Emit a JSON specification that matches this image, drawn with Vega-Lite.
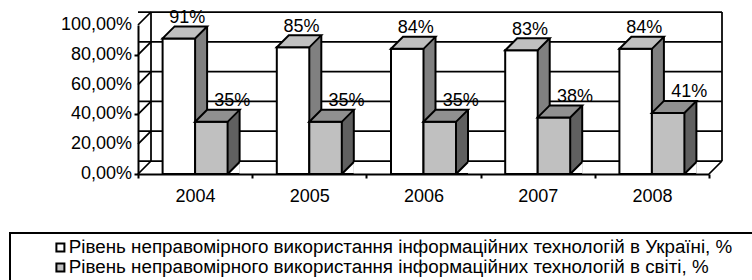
{
  "$schema": "https://vega.github.io/schema/vega-lite/v6.json",
  "width": 571,
  "height": 149,
  "autosize": {"type": "none"},
  "padding": {"left": 138, "top": 25, "right": 43, "bottom": 106},
  "background": "white",
  "config": {
    "view": {"stroke": null},
    "font": "Liberation Sans",
    "locale": {"number": {"decimal": ",", "thousands": " ", "grouping": [3], "currency": ["", ""]}},
    "axis": {"labelFont": "Liberation Sans", "labelFontSize": 18, "labelColor": "black", "domainColor": "black", "domainWidth": 2, "tickColor": "black", "tickWidth": 2, "tickSize": 4, "grid": false},
    "axisX": {"tickBand": "extent", "labelPadding": 9, "labelAngle": 0},
    "axisY": {"labels": false},
    "legend": {"strokeWidth": 2}
  },
  "datasets": {
    "bars": [
      {"year": "2004", "series": "Рівень неправомірного використання інформаційних технологій в Україні, %", "value": 0.91},
      {"year": "2004", "series": "Рівень неправомірного використання інформаційних технологій в світі, %", "value": 0.35},
      {"year": "2005", "series": "Рівень неправомірного використання інформаційних технологій в Україні, %", "value": 0.85},
      {"year": "2005", "series": "Рівень неправомірного використання інформаційних технологій в світі, %", "value": 0.35},
      {"year": "2006", "series": "Рівень неправомірного використання інформаційних технологій в Україні, %", "value": 0.84},
      {"year": "2006", "series": "Рівень неправомірного використання інформаційних технологій в світі, %", "value": 0.35},
      {"year": "2007", "series": "Рівень неправомірного використання інформаційних технологій в Україні, %", "value": 0.83},
      {"year": "2007", "series": "Рівень неправомірного використання інформаційних технологій в світі, %", "value": 0.38},
      {"year": "2008", "series": "Рівень неправомірного використання інформаційних технологій в Україні, %", "value": 0.84},
      {"year": "2008", "series": "Рівень неправомірного використання інформаційних технологій в світі, %", "value": 0.41}
    ],
    "levels": [{"v": 0}, {"v": 0.2}, {"v": 0.4}, {"v": 0.6}, {"v": 0.8}, {"v": 1}]
  },
  "layer": [
    {
      "data": {"name": "bars"},
      "transform": [{"filter": "indexof(datum.series,'Україні')>=0"}],
      "mark": {"type": "text", "dx": -7.75, "dy": -15.5, "baseline": "alphabetic", "align": "center", "font": "Liberation Sans", "fontSize": 18, "color": "black"},
      "encoding": {
        "x": {"field": "year", "type": "ordinal", "scale": {"type": "band", "domain": ["2004", "2005", "2006", "2007", "2008"], "paddingInner": 0, "paddingOuter": 0}, "axis": {"title": null}},
        "y": {"field": "value", "type": "quantitative", "scale": {"domain": [0, 1], "nice": false}, "axis": {"title": null, "values": [0, 0.2, 0.4, 0.6, 0.8, 1], "labels": false}},
        "text": {"field": "value", "type": "quantitative", "format": ".0%"}
      }
    },
    {
      "data": {"name": "bars"},
      "transform": [{"filter": "indexof(datum.series,'світі')>=0"}],
      "mark": {"type": "text", "dx": 37.25, "dy": -15.5, "baseline": "alphabetic", "align": "center", "font": "Liberation Sans", "fontSize": 18, "color": "black"},
      "encoding": {
        "x": {"field": "year", "type": "ordinal", "axis": {"title": null}},
        "y": {"field": "value", "type": "quantitative", "axis": {"title": null}},
        "text": {"field": "value", "type": "quantitative", "format": ".0%"}
      }
    },
    {
      "data": {"name": "levels"},
      "mark": {"type": "text", "align": "right", "baseline": "middle", "dx": -6, "font": "Liberation Sans", "fontSize": 18, "color": "black"},
      "encoding": {
        "x": {"datum": "2004", "type": "ordinal", "bandPosition": 0},
        "y": {"field": "v", "type": "quantitative", "axis": {"title": null}},
        "text": {"field": "v", "type": "quantitative", "format": ".2%"}
      }
    },
    {
      "data": {"name": "levels"},
      "mark": {"type": "rule", "color": "black", "strokeWidth": 1.75, "xOffset": 13, "x2Offset": 13, "yOffset": -13},
      "encoding": {"y": {"field": "v", "type": "quantitative", "axis": {"title": null}}}
    },
    {
      "data": {"name": "levels"},
      "mark": {"type": "point", "shape": "M0,0L13,-13", "size": 4, "filled": false, "stroke": "black", "strokeWidth": 1.75, "opacity": 1},
      "encoding": {
        "x": {"datum": "2004", "type": "ordinal", "bandPosition": 0},
        "y": {"field": "v", "type": "quantitative", "axis": {"title": null}}
      }
    },
    {
      "data": {"name": "levels"},
      "transform": [{"filter": "datum.v === 0"}],
      "mark": {"type": "rule", "color": "black", "strokeWidth": 1.75, "xOffset": 13, "yOffset": -13, "y2Offset": -13},
      "encoding": {
        "x": {"datum": "2004", "type": "ordinal", "bandPosition": 0},
        "y": {"field": "v", "type": "quantitative", "axis": {"title": null}},
        "y2": {"datum": 1}
      }
    },
    {
      "data": {"name": "levels"},
      "transform": [{"filter": "datum.v === 0"}],
      "mark": {"type": "rule", "color": "black", "strokeWidth": 1.75, "xOffset": 13, "yOffset": -13, "y2Offset": -13},
      "encoding": {
        "x": {"datum": "2008", "type": "ordinal", "bandPosition": 1},
        "y": {"field": "v", "type": "quantitative", "axis": {"title": null}},
        "y2": {"datum": 1}
      }
    },
    {
      "data": {"name": "levels"},
      "transform": [{"filter": "datum.v === 0"}],
      "mark": {"type": "point", "shape": "M0,0L13,-13", "size": 4, "filled": false, "stroke": "black", "strokeWidth": 1.75, "opacity": 1},
      "encoding": {
        "x": {"datum": "2008", "type": "ordinal", "bandPosition": 1},
        "y": {"field": "v", "type": "quantitative", "axis": {"title": null}}
      }
    },
    {
      "data": {"name": "bars"},
      "transform": [{"filter": "indexof(datum.series,'Україні')>=0"}],
      "mark": {"type": "bar", "width": 12, "xOffset": 6, "yOffset": -12, "fill": "#808080", "strokeWidth": 0},
      "encoding": {
        "x": {"field": "year", "type": "ordinal", "axis": {"title": null}},
        "y": {"field": "value", "type": "quantitative", "stack": null, "axis": {"title": null}}
      }
    },
    {
      "data": {"name": "bars"},
      "transform": [{"filter": "indexof(datum.series,'Україні')>=0"}],
      "mark": {"type": "rule", "color": "black", "strokeWidth": 2, "xOffset": 12, "yOffset": -12, "y2Offset": -12},
      "encoding": {
        "x": {"field": "year", "type": "ordinal", "axis": {"title": null}},
        "y": {"field": "value", "type": "quantitative", "axis": {"title": null}},
        "y2": {"datum": 0}
      }
    },
    {
      "data": {"name": "bars"},
      "transform": [{"filter": "indexof(datum.series,'Україні')>=0"}],
      "mark": {"type": "bar", "width": 32.5, "xOffset": -16.25, "stroke": "black", "strokeWidth": 2, "opacity": 1},
      "encoding": {
        "x": {"field": "year", "type": "ordinal", "axis": {"title": null}},
        "y": {"field": "value", "type": "quantitative", "stack": null, "axis": {"title": null}},
        "color": {
          "field": "series", "type": "nominal",
          "scale": {"domain": ["Рівень неправомірного використання інформаційних технологій в Україні, %", "Рівень неправомірного використання інформаційних технологій в світі, %"], "range": ["#FFFFFF", "#C0C0C0"]},
          "legend": {"title": "\u00a0", "titleOrient": "right", "titlePadding": 40, "titleFontSize": 10, "orient": "none", "legendX": -128, "legendY": 208, "direction": "vertical", "strokeColor": "black", "padding": 5, "fillColor": "white", "symbolType": "square", "symbolSize": 64, "symbolStrokeColor": "black", "symbolStrokeWidth": 2, "symbolOffset": 36, "labelOffset": -1, "labelFont": "Liberation Sans", "labelFontSize": 18.8, "labelColor": "black", "labelLimit": 1000, "rowPadding": -0.8}
        }
      }
    },
    {
      "data": {"name": "bars"},
      "transform": [{"filter": "indexof(datum.series,'Україні')>=0"}],
      "mark": {"type": "point", "shape": "M-16.25,0L16.25,0L28.25,-12L-4.25,-12Z", "size": 4, "xOffset": -16.25, "filled": true, "fill": "#C0C0C0", "stroke": "black", "strokeWidth": 2, "opacity": 1, "fillOpacity": 1},
      "encoding": {
        "x": {"field": "year", "type": "ordinal", "axis": {"title": null}},
        "y": {"field": "value", "type": "quantitative", "axis": {"title": null}}
      }
    },
    {
      "data": {"name": "bars"},
      "transform": [{"filter": "indexof(datum.series,'світі')>=0"}],
      "mark": {"type": "bar", "width": 12, "xOffset": 38.5, "yOffset": -12, "fill": "#606060", "strokeWidth": 0},
      "encoding": {
        "x": {"field": "year", "type": "ordinal", "axis": {"title": null}},
        "y": {"field": "value", "type": "quantitative", "stack": null, "axis": {"title": null}}
      }
    },
    {
      "data": {"name": "bars"},
      "transform": [{"filter": "indexof(datum.series,'світі')>=0"}],
      "mark": {"type": "point", "shape": "M28.25,0L16.25,0L28.25,-12", "size": 4, "xOffset": 16.25, "filled": true, "fill": "white", "stroke": "black", "strokeWidth": 2, "opacity": 1, "fillOpacity": 1},
      "encoding": {
        "x": {"field": "year", "type": "ordinal", "axis": {"title": null}},
        "y": {"datum": 0}
      }
    },
    {
      "data": {"name": "bars"},
      "transform": [{"filter": "indexof(datum.series,'світі')>=0"}],
      "mark": {"type": "rule", "color": "black", "strokeWidth": 2, "xOffset": 44.5, "yOffset": -12, "y2Offset": -12},
      "encoding": {
        "x": {"field": "year", "type": "ordinal", "axis": {"title": null}},
        "y": {"field": "value", "type": "quantitative", "axis": {"title": null}},
        "y2": {"datum": 0}
      }
    },
    {
      "data": {"name": "bars"},
      "transform": [{"filter": "indexof(datum.series,'світі')>=0"}],
      "mark": {"type": "bar", "width": 32.5, "xOffset": 16.25, "stroke": "black", "strokeWidth": 2, "opacity": 1},
      "encoding": {
        "x": {"field": "year", "type": "ordinal", "axis": {"title": null}},
        "y": {"field": "value", "type": "quantitative", "stack": null, "axis": {"title": null}},
        "color": {"field": "series", "type": "nominal"}
      }
    },
    {
      "data": {"name": "bars"},
      "transform": [{"filter": "indexof(datum.series,'світі')>=0"}],
      "mark": {"type": "point", "shape": "M-16.25,0L16.25,0L28.25,-12L-4.25,-12Z", "size": 4, "xOffset": 16.25, "filled": true, "fill": "#909090", "stroke": "black", "strokeWidth": 2, "opacity": 1, "fillOpacity": 1},
      "encoding": {
        "x": {"field": "year", "type": "ordinal", "axis": {"title": null}},
        "y": {"field": "value", "type": "quantitative", "axis": {"title": null}}
      }
    }
  ]
}
